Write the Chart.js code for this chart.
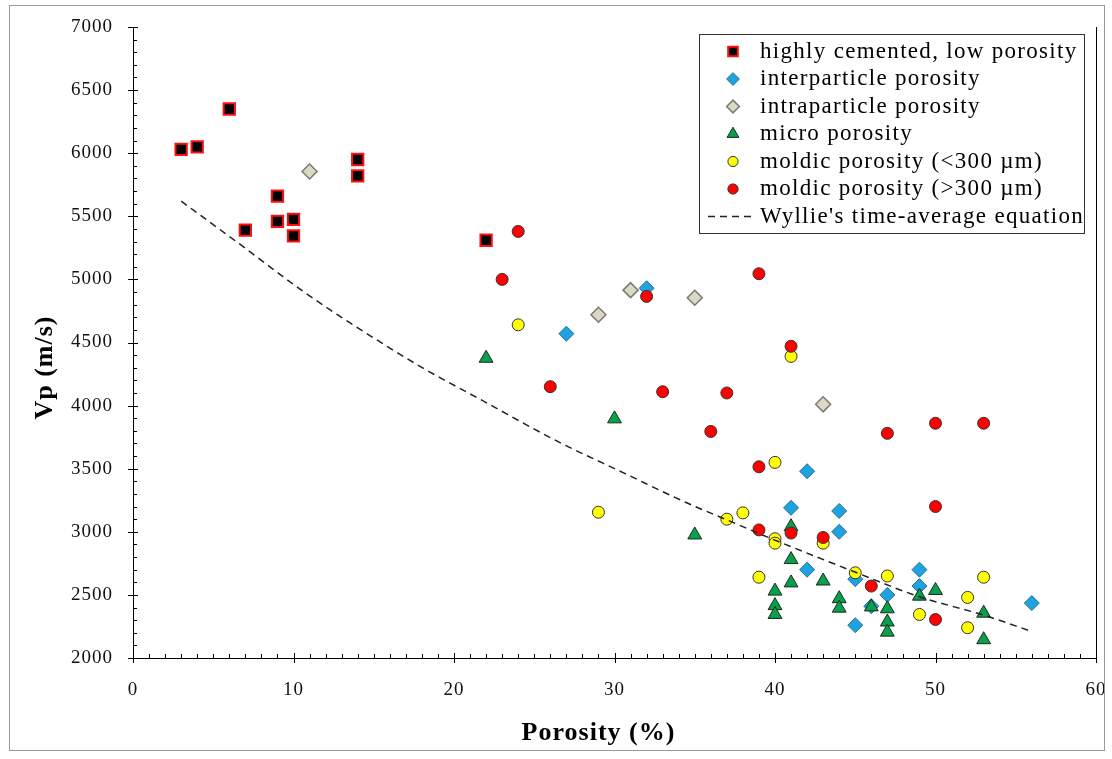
<!DOCTYPE html>
<html>
<head>
<meta charset="utf-8">
<title>Vp versus porosity</title>
<script src="https://cdn.jsdelivr.net/npm/chart.js@4.4.1/dist/chart.umd.min.js"></script>
<style>
  html, body { margin: 0; padding: 0; background: #fff; }
  #wrap { position: relative; width: 1112px; height: 759px; }
  #frame { position: absolute; left: 9px; top: 5px; width: 1096px; height: 746px;
           border: 1px solid #9a9a9a; pointer-events: none; box-sizing: border-box; }
  canvas { display: block; }
</style>
</head>
<body>
<div id="wrap">
  <canvas id="chart" width="1112" height="759"></canvas>
  <div id="frame"></div>
</div>
<script>
// ---- data -------------------------------------------------------------
const seriesNames = [
  'highly cemented, low porosity',
  'interparticle porosity',
  'intraparticle porosity',
  'micro porosity',
  'moldic porosity (<300 \u00b5m)',
  'moldic porosity (>300 \u00b5m)',
  "Wyllie's time-average equation"
];
const xTitle = 'Porosity (%)';
const yTitle = 'Vp (m/s)';

const cementedPorosity = [3, 4, 6, 7, 9, 9, 10, 10, 14, 14, 22];
const cementedVp       = [6030, 6050, 6350, 5390, 5660, 5460, 5475, 5345, 5950, 5820, 5310];

const interPorosity = [32, 27, 42, 41, 44, 44, 42, 45, 47, 49, 49, 45, 46, 56];
const interVp       = [4930, 4570, 3480, 3190, 3165, 3000, 2700, 2625, 2500, 2700, 2570, 2260, 2410, 2435];

const intraPorosity = [11, 29, 31, 35, 43];
const intraVp       = [5855, 4720, 4915, 4855, 4010];

const microPorosity = [22, 30, 35, 41, 41, 41, 40, 40, 40, 43, 44, 44, 46, 47, 47, 47, 49, 50, 53, 53];
const microVp       = [4375, 3895, 2975, 3040, 2780, 2595, 2530, 2415, 2345, 2610, 2470, 2395, 2405, 2390, 2285, 2205, 2490, 2535, 2355, 2145];

const smallMoldicPorosity = [24, 41, 40, 29, 37, 38, 40, 40, 39, 43, 45, 47, 49, 52, 52, 53];
const smallMoldicVp       = [4640, 4390, 3550, 3155, 3100, 3150, 2945, 2910, 2640, 2910, 2675, 2650, 2345, 2480, 2240, 2640];

const largeMoldicPorosity = [23, 24, 32, 39, 41, 26, 33, 37, 36, 39, 47, 50, 53, 39, 41, 43, 46, 50, 50];
const largeMoldicVp       = [5000, 5380, 4865, 5045, 4470, 4150, 4110, 4100, 3795, 3515, 3780, 3860, 3860, 3015, 2990, 2955, 2570, 3200, 2305];

const wylliePorosity = [3, 6.7, 10.6, 13.9, 18.1, 21.7, 26.4, 30.6, 34.5, 36.9, 39.5, 44.9, 49, 53, 56];
const wyllieVp       = [5620, 5275, 4905, 4625, 4295, 4045, 3720, 3465, 3230, 3100, 2960, 2685, 2485, 2340, 2210];

// ---- helpers ----------------------------------------------------------
const FONT = "'Liberation Serif', 'Times New Roman', serif";
const toPoints = (xs, ys) => xs.map((x, i) => ({ x: x, y: ys[i] }));

const datasets = [
  { label: seriesNames[0], data: toPoints(cementedPorosity, cementedVp),
    pointStyle: 'rect', pointRadius: 8, backgroundColor: '#000000', borderColor: '#ff1010', borderWidth: 2, order: 6 },
  { label: seriesNames[1], data: toPoints(interPorosity, interVp),
    pointStyle: 'rectRot', pointRadius: 7.5, backgroundColor: '#1ea2e0', borderColor: '#2b6f96', borderWidth: 1, order: 5 },
  { label: seriesNames[2], data: toPoints(intraPorosity, intraVp),
    pointStyle: 'rectRot', pointRadius: 7.5, backgroundColor: '#dcd8c6', borderColor: '#7a7a72', borderWidth: 1.5, order: 4 },
  { label: seriesNames[3], data: toPoints(microPorosity, microVp),
    pointStyle: 'triangle', pointRadius: 8, backgroundColor: '#08a04c', borderColor: '#1c2a1c', borderWidth: 1, order: 3 },
  { label: seriesNames[4], data: toPoints(smallMoldicPorosity, smallMoldicVp),
    pointStyle: 'circle', pointRadius: 6, backgroundColor: '#ffff00', borderColor: '#333333', borderWidth: 1, order: 2 },
  { label: seriesNames[5], data: toPoints(largeMoldicPorosity, largeMoldicVp),
    pointStyle: 'circle', pointRadius: 6, backgroundColor: '#ff0000', borderColor: '#333333', borderWidth: 1, order: 1 },
  { label: seriesNames[6], data: toPoints(wylliePorosity, wyllieVp),
    showLine: true, pointRadius: 0, borderColor: '#222222', borderWidth: 1.5, borderDash: [7, 5],
    cubicInterpolationMode: 'monotone', fill: false, order: 0 }
];

// Slightly wider text spacing for all canvas text.
const letterSpacingPlugin = {
  id: 'letterSpacing',
  beforeUpdate(chart) { chart.ctx.letterSpacing = '1px'; },
  beforeDraw(chart) { chart.ctx.letterSpacing = '1px'; }
};

// Major ticks cross the axis, minor ticks point inward; right frame line.
const axisTicksPlugin = {
  id: 'axisTicks',
  beforeDatasetsDraw(chart) {
    const { ctx, chartArea: a, scales: { x, y } } = chart;
    ctx.save();
    ctx.strokeStyle = '#000';
    ctx.lineWidth = 1;
    ctx.beginPath();
    for (let v = x.min; v <= x.max; v += 1) {
      const px = Math.round(x.getPixelForValue(v)) + 0.5;
      const major = v % 10 === 0;
      ctx.moveTo(px, a.bottom - (major ? 5 : 4));
      ctx.lineTo(px, a.bottom + (major ? 5 : 0));
    }
    for (let v = y.min; v <= y.max; v += 100) {
      const py = Math.round(y.getPixelForValue(v)) + 0.5;
      const major = v % 500 === 0;
      ctx.moveTo(a.left - (major ? 5 : 0), py);
      ctx.lineTo(a.left + (major ? 5 : 4), py);
    }
    const rx = Math.round(a.right) + 0.5;
    ctx.moveTo(rx, a.top);
    ctx.lineTo(rx, a.bottom + 5);
    ctx.stroke();
    ctx.restore();
  }
};

// Axis titles, placed relative to the plot area.
const axisTitlesPlugin = {
  id: 'axisTitles',
  afterDraw(chart) {
    const { ctx, chartArea: a } = chart;
    ctx.save();
    ctx.font = 'bold 26px ' + FONT;
    ctx.letterSpacing = '1px';
    ctx.fillStyle = '#000';
    ctx.textAlign = 'center';
    ctx.textBaseline = 'middle';
    ctx.fillText(xTitle, (a.left + a.right) / 2 - 16, a.bottom + 75);
    ctx.translate(a.left - 88, (a.top + a.bottom) / 2 + 25);
    ctx.rotate(-Math.PI / 2);
    ctx.fillText(yTitle, 0, 0);
    ctx.restore();
  }
};

// Boxed legend inside the plot area, top right.
const boxLegendPlugin = {
  id: 'boxLegend',
  afterDraw(chart) {
    const { ctx, chartArea: a } = chart;
    const box = { left: a.right - 397, top: a.top + 7, width: 385, height: 199 };
    const rowH = 27.5;
    ctx.save();
    ctx.fillStyle = '#fff';
    ctx.fillRect(box.left, box.top, box.width, box.height);
    ctx.strokeStyle = '#333';
    ctx.lineWidth = 1;
    ctx.strokeRect(Math.round(box.left) + 0.5, Math.round(box.top) + 0.5, box.width, box.height);
    ctx.font = '23px ' + FONT;
    ctx.letterSpacing = '1.3px';
    ctx.textBaseline = 'middle';
    ctx.textAlign = 'left';
    chart.data.datasets.forEach((ds, i) => {
      const cy = box.top + 17.5 + i * rowH;
      const mx = box.left + 34;
      if (ds.showLine) {
        ctx.save();
        ctx.strokeStyle = ds.borderColor;
        ctx.lineWidth = 1.5;
        ctx.setLineDash([7, 5]);
        ctx.beginPath();
        ctx.moveTo(box.left + 9, cy);
        ctx.lineTo(box.left + 57, cy);
        ctx.stroke();
        ctx.restore();
      } else {
        ctx.save();
        ctx.fillStyle = ds.backgroundColor;
        ctx.strokeStyle = ds.borderColor;
        ctx.lineWidth = ds.borderWidth;
        Chart.helpers.drawPoint(ctx, {
          pointStyle: ds.pointStyle,
          radius: ds.pointRadius * 0.85,
          rotation: 0,
          borderWidth: ds.borderWidth
        }, mx, cy);
        ctx.restore();
      }
      ctx.fillStyle = '#000';
      ctx.fillText(ds.label, box.left + 61, cy);
    });
    ctx.restore();
  }
};

new Chart(document.getElementById('chart'), {
  type: 'scatter',
  data: { datasets: datasets },
  plugins: [letterSpacingPlugin, axisTicksPlugin, axisTitlesPlugin, boxLegendPlugin],
  options: {
    responsive: false,
    animation: false,
    events: [],
    layout: { padding: { left: 0, right: 16, top: 27, bottom: 0 } },
    plugins: { legend: { display: false }, tooltip: { enabled: false } },
    scales: {
      x: {
        type: 'linear', min: 0, max: 60,
        ticks: { stepSize: 10, padding: 21, color: '#111', maxRotation: 0, autoSkip: false,
                 font: { family: FONT, size: 19 }, callback: (v) => String(v) },
        grid: { display: false, drawTicks: false },
        border: { display: true, color: '#000', width: 1 },
        title: { display: false, text: xTitle },
        afterFit(scale) {
          scale.height = 101;
          scale.paddingLeft = 0;
          scale.paddingRight = 0;
        }
      },
      y: {
        type: 'linear', min: 2000, max: 7000,
        ticks: { stepSize: 500, padding: 20, color: '#111',
                 font: { family: FONT, size: 19 }, callback: (v) => String(v) },
        grid: { display: false, drawTicks: false },
        border: { display: true, color: '#000', width: 1 },
        title: { display: false, text: yTitle },
        afterFit(scale) {
          scale.width = 133;
          scale.paddingTop = 0;
          scale.paddingBottom = 0;
        }
      }
    }
  }
});
</script>
</body>
</html>
